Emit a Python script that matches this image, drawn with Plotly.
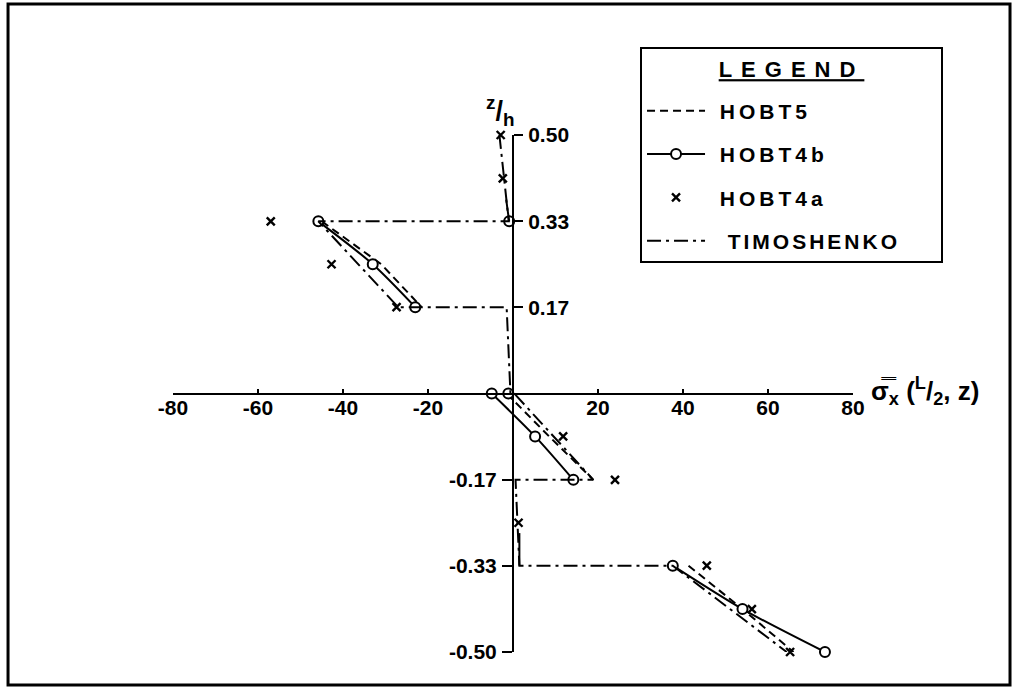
import plotly.graph_objects as go

# Normal stress sigma_x(L/2, z) across the thickness of the six-layer beam
# (values per theory; None separates the layer segments)
hobt5_sx = [-45.0, -31.0, -21.5, None, -1.5, 8.5, 18.9, None, 41.3, 54.0, 66.0]
hobt5_z = [0.333, 0.25, 0.167, None, 0.0, -0.083, -0.167, None, -0.333, -0.417, -0.5]

hobt4b_sx = [-0.9, None, -45.8, -33.0, -23.0, None, -1.1, None, -5.0, 5.2, 14.2,
             None, 37.6, 54.0, 73.4]
hobt4b_z = [0.333, None, 0.333, 0.25, 0.167, None, 0.0, None, 0.0, -0.083, -0.167,
            None, -0.333, -0.417, -0.5]

# HOBT4b in the low-stress layers next to the axis
hobt4b_core_sx = [-0.9, -1.6, None, 1.5, 1.5]
hobt4b_core_z = [0.333, 0.375, None, -0.27, -0.333]

hobt4a_sx = [-2.9, -2.4, -57.0, -42.7, -27.4, 11.8, 24.0, 1.3, 45.6, 56.2, 65.2]
hobt4a_z = [0.5, 0.416, 0.333, 0.25, 0.167, -0.083, -0.167, -0.25, -0.333, -0.417, -0.5]

timo_sx = [-3.2, -1.0, -45.8, -27.0, -1.5, -0.6, 0.3, 18.9, 0.6, 1.5, 37.6, 64.4]
timo_z = [0.5, 0.333, 0.333, 0.167, 0.167, 0.0, 0.0, -0.167, -0.167, -0.333, -0.333, -0.5]

x_ticks = [-80, -60, -40, -20, 20, 40, 60, 80]
x_ticktext = ["-80", "-60", "-40", "-20", "20", "40", "60", "80"]
z_ticks_top = [0.5, 0.333, 0.167]
z_ticktext_top = ["0.50", "0.33", "0.17"]
z_ticks_bottom = [-0.167, -0.333, -0.5]
z_ticktext_bottom = ["-0.17", "-0.33", "-0.50"]

FONT = "Liberation Sans"
INK = "black"
NB = "\u00a0"


def entry(text, px, lead=1, trail=0):
    return f'<span style="letter-spacing:{px}px">{NB * lead}{text}{NB * trail}</span>'


fig = go.Figure()

fig.add_trace(go.Scatter(
    x=hobt5_sx, y=hobt5_z, mode="lines", name=entry("HOBT5", 4),
    line=dict(color=INK, width=2, dash="8px,5px"),
    legendgroup="a", cliponaxis=False))

fig.add_trace(go.Scatter(
    x=hobt4b_sx, y=hobt4b_z, mode="lines+markers", name=entry("HOBT4b", 4),
    line=dict(color=INK, width=2, shape="spline", smoothing=0.8),
    marker=dict(symbol="circle", size=10, color="white", line=dict(color=INK, width=2)),
    legendgroup="b", cliponaxis=False))

fig.add_trace(go.Scatter(
    x=hobt4b_core_sx, y=hobt4b_core_z, mode="lines", showlegend=False,
    line=dict(color=INK, width=2), legendgroup="b", cliponaxis=False))

fig.add_trace(go.Scatter(
    x=hobt4a_sx, y=hobt4a_z, mode="markers", name=entry("HOBT4a", 4),
    marker=dict(symbol="x-thin", size=8, color=INK, line=dict(color=INK, width=2.4)),
    legendgroup="c", cliponaxis=False))

fig.add_trace(go.Scatter(
    x=timo_sx, y=timo_z, mode="lines", name=entry("TIMOSHENKO", 3, lead=2, trail=4),
    line=dict(color=INK, width=2, dash="14px,5px,3px,5px"),
    legendgroup="d", yaxis="y2", cliponaxis=False))

tick_font = dict(family=FONT, size=21, color=INK, weight="bold")

fig.update_layout(
    width=1019, height=689,
    margin=dict(l=173, r=166, t=135, b=37),
    paper_bgcolor="white", plot_bgcolor="white",
    font=dict(family=FONT, size=21, color=INK),
    xaxis=dict(
        range=[-80, 80], anchor="free", position=0.5,
        showline=True, linecolor=INK, linewidth=2,
        tickvals=x_ticks, ticktext=x_ticktext,
        ticks="inside", ticklen=4, tickwidth=2, tickcolor=INK,
        ticklabelstandoff=-5,
        showgrid=False, zeroline=False, tickfont=tick_font,
    ),
    yaxis=dict(
        range=[-0.5, 0.5], anchor="free", position=0.5, side="right",
        showline=True, linecolor=INK, linewidth=2,
        tickvals=z_ticks_top, ticktext=z_ticktext_top,
        ticks="outside", ticklen=9, tickwidth=2, tickcolor=INK,
        ticklabelstandoff=1,
        showgrid=False, zeroline=False, tickfont=tick_font,
    ),
    yaxis2=dict(
        range=[-0.5, 0.5], anchor="free", position=0.5, side="left",
        overlaying="y",
        showline=True, linecolor=INK, linewidth=2,
        tickvals=z_ticks_bottom, ticktext=z_ticktext_bottom,
        ticks="outside", ticklen=10, tickwidth=2, tickcolor=INK,
        ticklabelstandoff=1,
        showgrid=False, zeroline=False, tickfont=tick_font,
    ),
    legend=dict(
        x=0.6868, y=1.1702, xanchor="left", yanchor="top",
        bordercolor=INK, borderwidth=2, bgcolor="white",
        font=dict(family=FONT, size=21, color=INK, weight="bold"),
        title=dict(
            text=('<sup><span style="letter-spacing:9px;text-decoration:underline;'
                  'font-size:22px">LEGEND</span></sup>'),
            side="top center", font=dict(size=32, weight="bold")),
        traceorder="grouped", tracegroupgap=13, itemwidth=58,
    ),
    showlegend=True,
    annotations=[
        dict(text="<sup>z</sup>/<sub>h</sub>", xref="paper", yref="paper",
             x=0.481, y=1.006, yanchor="bottom", showarrow=False,
             font=dict(size=27, weight="bold")),
        dict(text="σ̿<sub>x</sub> (<sup>L</sup>/<sub>2</sub>, z)", xref="paper", yref="paper",
             x=1.024, y=0.505, xanchor="left", yanchor="middle",
             showarrow=False, font=dict(size=26, weight="bold")),
    ],
    shapes=[
        dict(type="rect", xref="paper", yref="paper",
             x0=-0.2426, x1=1.2309, y0=-0.0638, y1=1.2534,
             line=dict(color=INK, width=3)),
    ],
)

fig.write_html("out.html")
